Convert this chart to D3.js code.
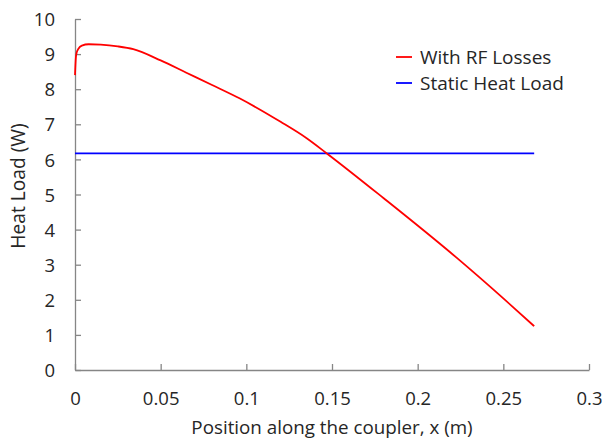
<!DOCTYPE html>
<html>
<head>
<meta charset="utf-8">
<script src="https://cdn.jsdelivr.net/npm/d3@7"></script>
<style>
  body { margin: 0; background: #fff; }
  text { font-family: "Open Sans", sans-serif; fill: #262626; }
</style>
</head>
<body>
<svg id="chart"></svg>
<script>
// heat load along the coupler
const rfX = [0, 0.0005, 0.001, 0.002, 0.004, 0.008, 0.015, 0.025, 0.034, 0.05, 0.065, 0.08, 0.096, 0.12, 0.135, 0.147, 0.18, 0.2227, 0.25, 0.268];
const rfY = [8.40, 8.90, 9.05, 9.15, 9.24, 9.28, 9.27, 9.22, 9.14, 8.82, 8.47, 8.12, 7.74, 7.07, 6.61, 6.17, 4.90, 3.20, 2.04, 1.25];
const staticX = [0, 0.268];
const staticY = [6.17, 6.17];
const xTicks = [0, 0.05, 0.1, 0.15, 0.2, 0.25, 0.3];
const yTicks = [0, 1, 2, 3, 4, 5, 6, 7, 8, 9, 10];
const seriesNames = ["With RF Losses", "Static Heat Load"];
const seriesColors = ["#ff0000", "#0000ff"];

const width = 602, height = 439;
const margin = { left: 75, top: 19, right: 13, bottom: 69 };

const svg = d3.select("#chart")
    .attr("width", width)
    .attr("height", height);

const xScale = d3.scaleLinear()
    .domain([0, 0.3])
    .range([margin.left, width - margin.right]);
const yScale = d3.scaleLinear()
    .domain([0, 10])
    .range([height - margin.bottom, margin.top]);

// axes, ticks pointing inward
const xAxis = d3.axisBottom(xScale)
    .tickValues(xTicks)
    .tickFormat(d => d3.format("")(d))
    .tickSizeInner(-6)
    .tickSizeOuter(0)
    .tickPadding(22);
const yAxis = d3.axisLeft(yScale)
    .tickValues(yTicks)
    .tickSizeInner(-6)
    .tickSizeOuter(0)
    .tickPadding(20);

const gx = svg.append("g")
    .attr("transform", "translate(0," + (height - margin.bottom) + ")")
    .call(xAxis);
const gy = svg.append("g")
    .attr("transform", "translate(" + margin.left + ",0)")
    .call(yAxis);

[gx, gy].forEach(g => {
    g.select(".domain").attr("stroke", "#868686").attr("stroke-width", 1.3);
    g.selectAll(".tick line").attr("stroke", "#868686").attr("stroke-width", 1.3);
    g.selectAll(".tick text")
        .attr("font-family", "Open Sans, sans-serif")
        .attr("font-size", 18.5)
        .attr("fill", "#262626");
});
gy.selectAll(".tick text").attr("dy", "0.36em");

// series
const line = d3.line()
    .x(d => xScale(d[0]))
    .y(d => yScale(d[1]))
    .curve(d3.curveMonotoneX);

svg.append("path")
    .attr("d", line(d3.zip(staticX, staticY)))
    .attr("fill", "none")
    .attr("stroke", seriesColors[1])
    .attr("stroke-width", 1.8);

svg.append("path")
    .attr("d", line(d3.zip(rfX, rfY)))
    .attr("fill", "none")
    .attr("stroke", seriesColors[0])
    .attr("stroke-width", 1.8);

// axis titles
svg.append("text")
    .attr("x", 332)
    .attr("y", 434)
    .attr("text-anchor", "middle")
    .attr("font-size", 18.8)
    .text("Position along the coupler, x (m)");

svg.append("text")
    .attr("transform", "translate(25," + 186 + ") rotate(-90)")
    .attr("text-anchor", "middle")
    .attr("font-size", 19.2)
    .text("Heat Load (W)");

// legend
const legend = svg.append("g").attr("transform", "translate(396,57)");
seriesNames.forEach((name, i) => {
    legend.append("line")
        .attr("x1", 0).attr("x2", 16)
        .attr("y1", i * 26).attr("y2", i * 26)
        .attr("stroke", seriesColors[i])
        .attr("stroke-width", 1.8);
    legend.append("text")
        .attr("x", 24)
        .attr("y", i * 26 + 7)
        .attr("font-size", 19)
        .text(name);
});
</script>
</body>
</html>
